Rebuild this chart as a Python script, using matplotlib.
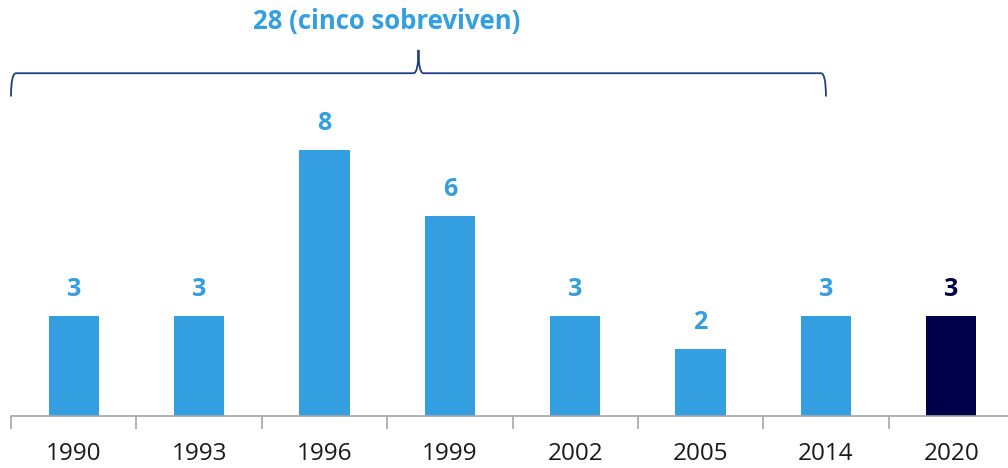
import matplotlib.pyplot as plt
from matplotlib.path import Path
from matplotlib.patches import PathPatch

years = ["1990", "1993", "1996", "1999", "2002", "2005", "2014", "2020"]
counts = [3, 3, 8, 6, 3, 2, 3, 3]
bar_colors = ["#339FE0"] * 7 + ["#00004A"]
brace_label = "28 (cinco sobreviven)"

plt.rcParams["font.family"] = ["Open Sans", "DejaVu Sans"]

fig = plt.figure(figsize=(10.08, 4.68), dpi=100)
ax = fig.add_axes([11 / 1008, 52 / 468, 1003 / 1008, 416 / 468])

x = range(len(years))
bars = ax.bar(x, counts, width=0.4, color=bar_colors, zorder=2)

for xi, v, c in zip(x, counts, bar_colors):
    ax.text(xi, v + 0.8, str(v), ha="center", va="center",
            fontsize=18, fontweight="bold", color=c)

ax.set_xlim(-0.5, len(years) - 0.5)
ax.set_ylim(0, 12.5)

for s in ["top", "right", "left"]:
    ax.spines[s].set_visible(False)
ax.spines["bottom"].set_color("#A6A6A6")
ax.spines["bottom"].set_linewidth(1.2)
ax.set_yticks([])

ax.set_xticks(list(x))
ax.set_xticklabels(years, fontsize=17.5, color="#1A1A1A")
ax.tick_params(axis="x", which="major", length=0, pad=19)
ax.set_xticks([i - 0.5 for i in range(len(years) + 1)], minor=True)
ax.tick_params(axis="x", which="minor", length=9, width=1.2, color="#A6A6A6")

# curly brace over 1990..2014
x0, x1 = -0.5, 6.0
xm = (x0 + x1) / 2
y_end, y_line, y_tip = 9.6, 10.3, 11.0
dx = 0.04
verts = [
    (x0, y_end), (x0, y_line), (x0 + dx, y_line),
    (xm - dx, y_line), (xm, y_line), (xm, y_tip),
    (xm, y_line), (xm + dx, y_line),
    (x1 - dx, y_line), (x1, y_line), (x1, y_end),
]
codes = [
    Path.MOVETO, Path.CURVE3, Path.CURVE3,
    Path.LINETO, Path.CURVE3, Path.CURVE3,
    Path.CURVE3, Path.CURVE3,
    Path.LINETO, Path.CURVE3, Path.CURVE3,
]
ax.add_patch(PathPatch(Path(verts, codes), fill=False, edgecolor="#1F3F80",
                       linewidth=1.3, clip_on=False))

ax.text(xm - 0.25, 11.85, brace_label, ha="center", va="center",
        fontsize=18.5, fontweight="bold", color="#339FE0")

plt.savefig("out.png", dpi=100)
